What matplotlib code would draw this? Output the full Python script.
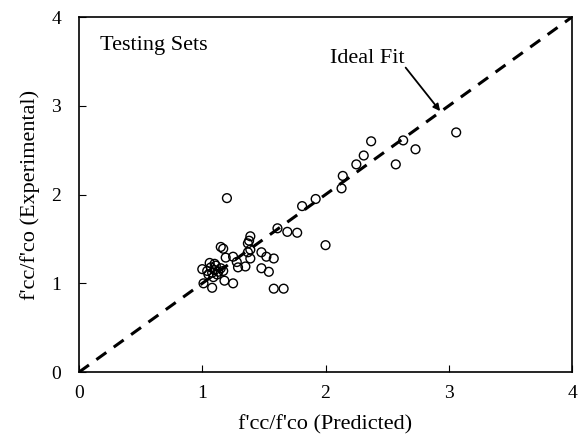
import numpy as np
import matplotlib
matplotlib.use('Agg')
import matplotlib.pyplot as plt

plt.rcParams['font.family'] = 'Liberation Serif'

# predicted vs experimental f'cc/f'co (testing sets)
predicted = [1.20, 1.81, 1.92, 1.61, 1.69, 1.77, 2.00, 1.39, 1.38, 1.37,
             1.39, 1.37, 1.15, 1.17, 1.48, 1.52, 1.58, 1.39, 1.19, 1.25,
             1.28, 1.29, 1.35, 1.48, 1.54, 1.00, 1.06, 1.10, 1.17, 1.01,
             1.08, 1.18, 1.25, 1.58, 1.66,
             1.05, 1.08, 1.10, 1.12, 1.07, 1.13, 1.09, 1.15, 1.11, 1.04,
             3.06, 2.63, 2.73, 2.37, 2.31, 2.25, 2.57, 2.14, 2.13]
experimental = [1.96, 1.87, 1.95, 1.62, 1.58, 1.57, 1.43, 1.53, 1.48, 1.45,
                1.38, 1.35, 1.41, 1.39, 1.35, 1.30, 1.28, 1.28, 1.29, 1.30,
                1.24, 1.18, 1.19, 1.17, 1.13, 1.16, 1.23, 1.22, 1.14, 1.00,
                0.95, 1.03, 1.00, 0.94, 0.94,
                1.10, 1.12, 1.15, 1.10, 1.18, 1.13, 1.07, 1.17, 1.20, 1.14,
                2.70, 2.61, 2.51, 2.60, 2.44, 2.34, 2.34, 2.21, 2.07]

fig = plt.figure(figsize=(5.78, 4.43), dpi=100)
ax = fig.add_axes([0.1367, 0.160, 0.853, 0.8016])

ax.plot([0, 4], [0, 4], 'k', linestyle=(0, (4, 3)), linewidth=2.2)
ax.scatter(predicted, experimental, s=40, facecolors='none', edgecolors='k', linewidths=1.0, zorder=3)

ax.set_xlim(0, 4)
ax.set_ylim(0, 4)
ax.set_xticks([0, 1, 2, 3, 4])
ax.set_yticks([0, 1, 2, 3, 4])
ax.tick_params(direction='in', labelsize=14, length=5)
ax.tick_params(axis='x', pad=9)
ax.tick_params(axis='y', pad=13)
for s in ax.spines.values():
    s.set_linewidth(1.2)

ax.set_xlabel("f'cc/f'co (Predicted)", fontsize=16, labelpad=10)
ax.set_ylabel("f'cc/f'co (Experimental)", fontsize=16, labelpad=8)

ax.text(0.17, 3.63, 'Testing Sets', fontsize=16, va='baseline')
ax.text(2.04, 3.485, 'Ideal Fit', fontsize=16, va='baseline')
ax.annotate('', xy=(2.93, 2.94), xytext=(2.65, 3.43),
            arrowprops=dict(arrowstyle='-|>', color='k', lw=1.3, shrinkA=0, shrinkB=0))

fig.savefig('out.png', dpi=100)
